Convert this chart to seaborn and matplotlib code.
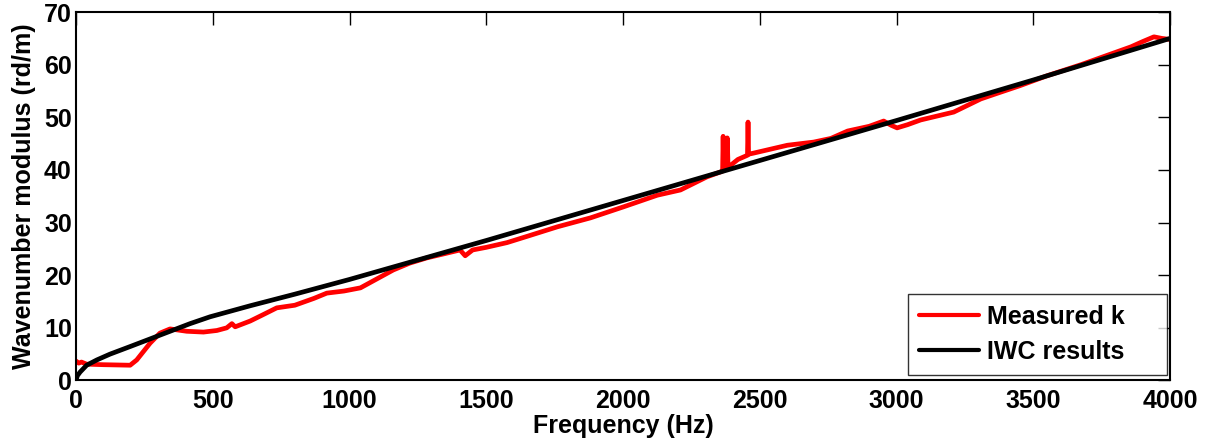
import matplotlib
matplotlib.use('Agg')
import matplotlib.pyplot as plt
import seaborn as sns
import pandas as pd

freq_meas = [0, 10, 20, 39, 100, 150, 198, 222, 271, 307, 344, 405, 466, 515, 551, 570, 582,
             637, 680, 734, 800, 870, 917, 980, 1040, 1100, 1160, 1220, 1283, 1340, 1404,
             1423, 1450, 1500, 1576, 1650, 1760, 1881, 2002, 2125, 2210, 2307, 2360, 2364,
             2366, 2368, 2378, 2381, 2384, 2420, 2455, 2457, 2459, 2477, 2601, 2697, 2760,
             2821, 2900, 2953, 2980, 3002, 3040, 3088, 3209, 3308, 3370, 3450, 3550, 3674,
             3760, 3857, 3900, 3941, 3970, 4000]
k_meas = [3.7, 3.3, 3.5, 3.1, 3.0, 2.95, 2.9, 3.9, 7.1, 9.0, 9.8, 9.35, 9.2, 9.5, 10.0, 10.8, 10.2,
          11.3, 12.4, 13.8, 14.3, 15.6, 16.6, 17.0, 17.6, 19.3, 21.0, 22.3, 23.3, 24.0, 24.8,
          23.7, 24.8, 25.3, 26.2, 27.4, 29.2, 30.9, 33.0, 35.2, 36.2, 38.7, 39.7, 39.8,
          46.4, 40.0, 40.2, 46.1, 40.5, 42.0, 42.8, 49.1, 43.0, 43.2, 44.7, 45.3, 46.0,
          47.4, 48.3, 49.3, 48.5, 48.0, 48.6, 49.5, 51.0, 53.5, 54.6, 56.0, 57.9, 60.0,
          61.6, 63.4, 64.4, 65.3, 65.0, 64.8]

# IWC 결과
freq_iwc = [0, 5, 15, 39, 76, 124, 198, 271, 344, 417, 490, 637, 800, 1000, 1500, 2000,
            2500, 3000, 3500, 4000]
k_iwc = [0, 0.9, 1.6, 2.9, 3.9, 5.0, 6.45, 7.9, 9.35, 10.8, 12.1, 14.2, 16.4, 19.2, 26.6,
         34.2, 41.8, 49.4, 57.1, 65.0]

df = pd.concat([
    pd.DataFrame({'f': freq_meas, 'k': k_meas, 'series': 'Measured k'}),
    pd.DataFrame({'f': freq_iwc, 'k': k_iwc, 'series': 'IWC results'}),
])

sns.set_style('white')
plt.rcParams['font.family'] = ['Liberation Sans', 'DejaVu Sans']
plt.rcParams['font.weight'] = 'bold'
plt.rcParams['text.color'] = 'black'
plt.rcParams['axes.labelcolor'] = 'black'
plt.rcParams['xtick.color'] = 'black'
plt.rcParams['ytick.color'] = 'black'

fig = plt.figure(figsize=(12.1, 4.48), dpi=100)
ax = fig.add_axes([0.0628, 0.1507, 0.9042, 0.8223])

sns.lineplot(data=df, x='f', y='k', hue='series', sort=False,
             palette={'Measured k': '#ff0000', 'IWC results': '#000000'},
             linewidth=3.4, ax=ax, legend=True)

ax.set_xlim(0, 4000)
ax.set_ylim(0, 70)
ax.set_xticks(range(0, 4001, 500))
ax.set_yticks(range(0, 71, 10))
ax.tick_params(direction='in', length=9, width=1, top=True, right=True,
               labelsize=18)
ax.tick_params(axis='x', pad=6)
ax.tick_params(axis='y', pad=3)
for lab in ax.get_xticklabels() + ax.get_yticklabels():
    lab.set_fontweight('bold')
for s in ax.spines.values():
    s.set_linewidth(1.5)
    s.set_color('black')

ax.set_xlabel('Frequency (Hz)', fontsize=18, fontweight='bold', labelpad=1)
ax.set_ylabel('Wavenumber modulus (rd/m)', fontsize=18, fontweight='bold', labelpad=6)

# 범례: MATLAB 스타일처럼 오른쪽 여백이 넓은 박스
leg = ax.legend(loc='lower left', bbox_to_anchor=(0.7605, 0.0136, 0.2368, 0.2),
                mode='expand', frameon=True, fancybox=False,
                edgecolor='black', handlelength=2.4, handletextpad=0.3,
                borderaxespad=0, borderpad=0.45, labelspacing=0.45,
                prop={'weight': 'bold', 'size': 18})
leg.get_frame().set_linewidth(1.0)
for line in leg.get_lines():
    line.set_linewidth(3)

fig.savefig('out.png', dpi=100)
